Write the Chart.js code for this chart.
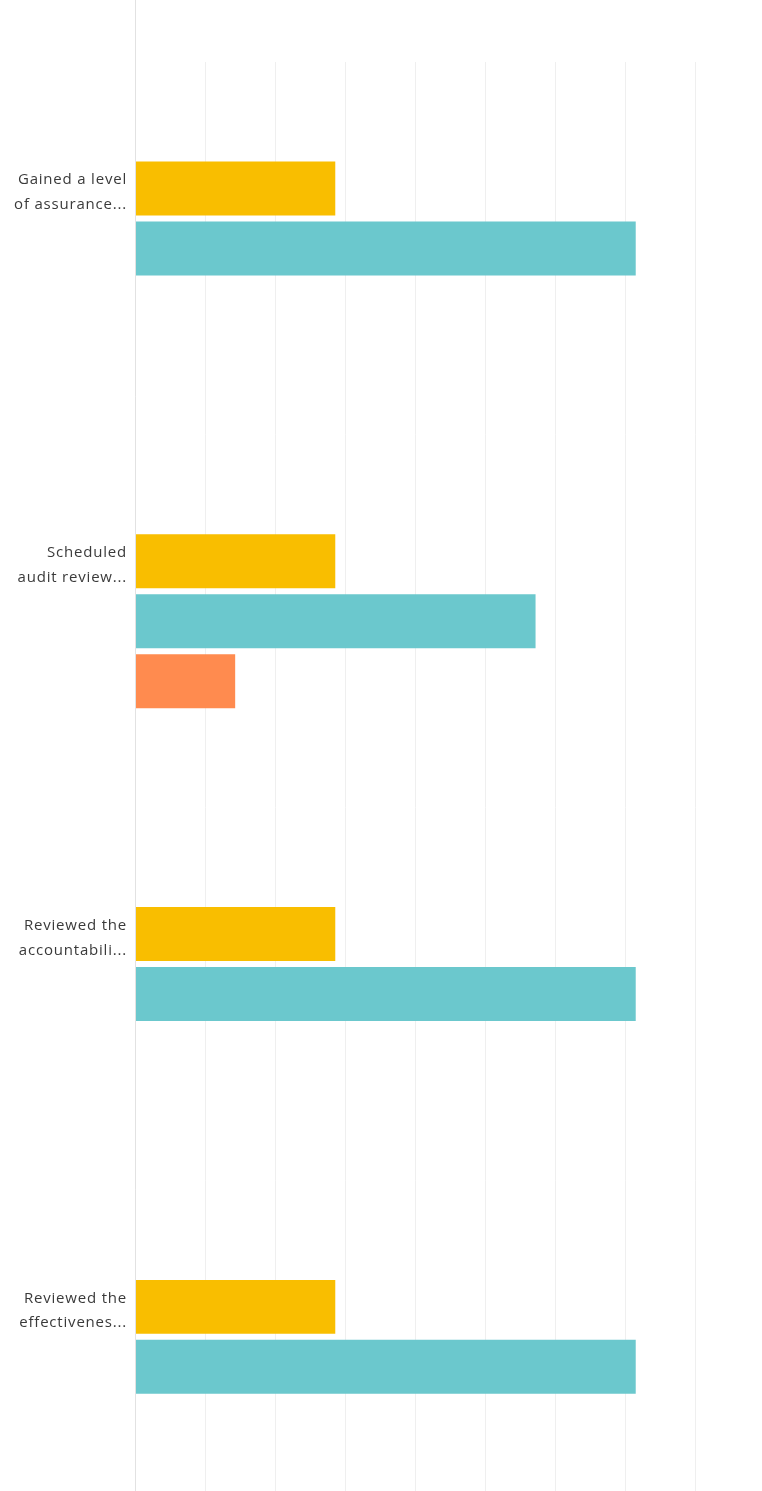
<!DOCTYPE html>
<html lang="en">
<head>
  <meta charset="UTF-8">
  <title>Audit committee activities</title>
  <script src="https://cdn.jsdelivr.net/npm/chart.js"></script>
  <style>
    html, body { margin: 0; padding: 0; overflow: hidden; background: #fff; }
    #wrap { width: 762px; height: 1491px; overflow: hidden; position: relative; }
    canvas { display: block; }
  </style>
</head>
<body>
  <div id="wrap">
    <canvas id="barChart" width="860" height="1586"></canvas>
  </div>

  <script>
    // answers (truncated as in the original survey chart)
    const categories = [
      ['Gained a level', 'of assurance...'],
      ['Scheduled', 'audit review...'],
      ['Reviewed the', 'accountabili...'],
      ['Reviewed the', 'effectivenes...']
    ];
    // percent of respondents per answer option
    const yellowValues = [28.57, 28.57, 28.57, 28.57];
    const tealValues = [71.43, 57.14, 71.43, 71.43];
    const orangeValues = [0, 14.29, 0, 0];
    const xTicks = [0, 10, 20, 30, 40, 50, 60, 70, 80, 90, 100];

    // left axis line runs the full height of the picture
    const axisLine = {
      id: 'axisLine',
      beforeDraw(chart) {
        chart.ctx.letterSpacing = '0.8px';
      },
      afterDatasetsDraw(chart) {
        const ctx = chart.ctx;
        const x = chart.chartArea.left + 0.5;
        ctx.save();
        ctx.strokeStyle = '#e2e2e2';
        ctx.lineWidth = 1;
        ctx.beginPath();
        ctx.moveTo(x, 0);
        ctx.lineTo(x, chart.height);
        ctx.stroke();
        ctx.restore();
      }
    };

    const ctx = document.getElementById('barChart').getContext('2d');
    new Chart(ctx, {
      type: 'bar',
      data: {
        labels: categories,
        datasets: [
          { data: yellowValues, backgroundColor: '#f9be00' },
          { data: tealValues, backgroundColor: '#6bc8cd' },
          { data: orangeValues, backgroundColor: '#ff8b4f' }
        ]
      },
      options: {
        indexAxis: 'y',
        responsive: false,
        animation: false,
        categoryPercentage: 0.4826,
        barPercentage: 0.9,
        layout: { padding: { top: 62, right: 24, bottom: 0, left: 0 } },
        plugins: {
          legend: { display: false },
          tooltip: { enabled: false }
        },
        scales: {
          x: {
            min: 0,
            max: 100,
            afterBuildTicks: scale => { scale.ticks = xTicks.map(v => ({ value: v })); },
            ticks: { display: false },
            grid: { color: '#efefef', drawTicks: false },
            border: { display: false }
          },
          y: {
            afterFit: scale => { scale.width = 135; },
            grid: { display: false, drawTicks: false },
            border: { display: false },
            ticks: {
              padding: 8,
              labelOffset: -56,
              color: '#3a3a3a',
              font: { family: 'Open Sans', size: 15, lineHeight: 1.65 }
            }
          }
        }
      },
      plugins: [axisLine]
    });
  </script>
</body>
</html>
